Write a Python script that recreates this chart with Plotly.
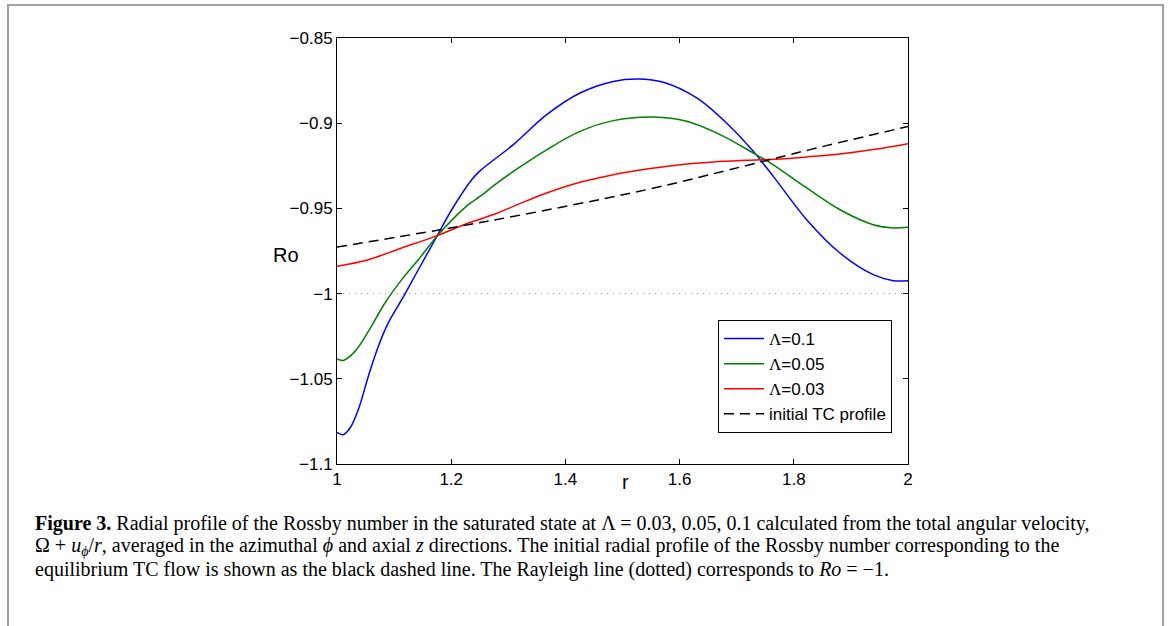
import plotly.graph_objects as go

# ---- data ----
r_l01 = [1.0, 1.011, 1.0228, 1.0373, 1.0548, 1.0723, 1.0898, 1.1133, 1.1424, 1.1716, 1.2009, 1.2359,
         1.2504, 1.3088, 1.3672, 1.4256, 1.4839, 1.5277, 1.5715, 1.63, 1.6883, 1.729, 1.7641, 1.8226,
         1.8809, 1.9392, 1.9743, 2.0]
ro_l01 = [-1.0815, -1.0828, -1.0789, -1.0681, -1.0486, -1.031, -1.0172, -1.0036, -0.986, -0.9684, -0.9508,
          -0.9332, -0.928, -0.9126, -0.895, -0.8823, -0.8755, -0.8741, -0.876, -0.8852, -0.9019, -0.9165,
          -0.9312, -0.9566, -0.9762, -0.9889, -0.9924, -0.9924]

r_l005 = [1.0, 1.011, 1.0315, 1.0548, 1.084, 1.1133, 1.1424, 1.1774, 1.23, 1.2504, 1.2767, 1.3088, 1.3672,
          1.4256, 1.4839, 1.554, 1.6124, 1.6708, 1.729, 1.7641, 1.8226, 1.8809, 1.9392, 1.9743, 2.0]
ro_l005 = [-1.0384, -1.0392, -1.0339, -1.0222, -1.0055, -0.9918, -0.9801, -0.9654, -0.9478, -0.943,
           -0.9361, -0.9283, -0.9156, -0.9048, -0.8985, -0.8964, -0.8989, -0.9067, -0.9175, -0.9244,
           -0.938, -0.9508, -0.9596, -0.9615, -0.9611]

r_l003 = [1.0, 1.0548, 1.1133, 1.1716, 1.23, 1.2767, 1.3088, 1.3672, 1.4256, 1.4839, 1.5423, 1.6007,
          1.659, 1.7175, 1.7758, 1.8226, 1.8809, 1.9392, 2.0]
ro_l003 = [-0.984, -0.9801, -0.9732, -0.9664, -0.9586, -0.9533, -0.9488, -0.941, -0.9347, -0.9302,
           -0.9269, -0.9244, -0.9228, -0.9218, -0.921, -0.9198, -0.9181, -0.9155, -0.912]

r_tc = [1.0, 1.256, 1.5423, 1.7116, 1.8284, 2.0]
ro_tc = [-0.9727, -0.958, -0.939, -0.9253, -0.9155, -0.9019]

r_rayleigh = [1.0, 2.0]
ro_rayleigh = [-1.0, -1.0]

y_ticks = [-0.85, -0.9, -0.95, -1.0, -1.05, -1.1]
y_tick_text = ["\u22120.85", "\u22120.9", "\u22120.95", "\u22121", "\u22121.05", "\u22121.1"]
x_ticks = [1, 1.2, 1.4, 1.6, 1.8, 2]
x_tick_text = ["1", "1.2", "1.4", "1.6", "1.8", "2"]

LAM = "<span style='font-family:Liberation Serif'>Λ</span>"

fig = go.Figure()
fig.add_trace(go.Scatter(x=r_rayleigh, y=ro_rayleigh, mode="lines", showlegend=False,
                         line=dict(color="#8c8c8c", width=1, dash="1px,5px")))
fig.add_trace(go.Scatter(x=r_l01, y=ro_l01, mode="lines", name=LAM + "=0.1",
                         line=dict(color="#0000ff", width=1.5, shape="spline", smoothing=1.0)))
fig.add_trace(go.Scatter(x=r_l005, y=ro_l005, mode="lines", name=LAM + "=0.05",
                         line=dict(color="#008000", width=1.5, shape="spline", smoothing=1.0)))
fig.add_trace(go.Scatter(x=r_l003, y=ro_l003, mode="lines", name=LAM + "=0.03",
                         line=dict(color="#ff0000", width=1.5, shape="spline", smoothing=1.0)))
fig.add_trace(go.Scatter(x=r_tc, y=ro_tc, mode="lines", name="initial TC profile",
                         line=dict(color="#000000", width=1.5, dash="10px,6px", shape="spline")))

axis_common = dict(showline=True, linecolor="black", linewidth=1, mirror="ticks",
                   ticks="inside", ticklen=5, tickcolor="black", tickwidth=1,
                   showgrid=False, zeroline=False,
                   tickfont=dict(family="Liberation Sans", size=17, color="black"))

fig.update_xaxes(range=[1, 2], tickvals=x_ticks, ticktext=x_tick_text, **axis_common)
fig.update_yaxes(range=[-1.1, -0.85], tickvals=y_ticks, ticktext=y_tick_text, **axis_common)

W, H = 1170, 626
L, R, T, B = 337, 908, 38, 464
pw, ph = R - L, B - T


def px_x(p):
    return (p - L) / pw


def px_y(p):
    return (B - p) / ph


annotations = [
    dict(text="r", x=px_x(625), y=px_y(495), xref="paper", yref="paper", showarrow=False,
         font=dict(family="Liberation Sans", size=20, color="black")),
    dict(text="Ro", x=px_x(271), y=px_y(255), xref="paper", yref="paper", showarrow=False,
         font=dict(family="Liberation Sans", size=20, color="black")),
]

caption_lines = [
    "<b>Figure 3.</b> Radial profile of the Rossby number in the saturated state at Λ = 0.03, 0.05, 0.1 "
    "calculated from the total angular velocity,",
    "Ω + <i>u</i><sub><i>ϕ</i></sub>/<i>r</i>, averaged in the azimuthal <i>ϕ</i> and axial <i>z</i> "
    "directions. The initial radial profile of the Rossby number corresponding to the",
    "equilibrium TC flow is shown as the black dashed line. The Rayleigh line (dotted) corresponds to "
    "<i>Ro</i> = −1.",
]
for line, yy in zip(caption_lines, [523, 546, 569]):
    annotations.append(dict(text=line, x=px_x(33), y=px_y(yy), xref="paper", yref="paper",
                            xanchor="left", yanchor="middle", showarrow=False,
                            font=dict(family="Liberation Serif", size=20, color="black")))

fig.update_layout(
    width=W, height=H,
    margin=dict(l=L, r=W - R, t=T, b=H - B),
    paper_bgcolor="white", plot_bgcolor="white",
    showlegend=True,
    legend=dict(x=px_x(892), y=px_y(433), xanchor="right", yanchor="bottom",
                bordercolor="black", borderwidth=1, bgcolor="white",
                font=dict(family="Liberation Sans", size=17, color="black"),
                tracegroupgap=0, itemwidth=40),
    annotations=annotations,
    shapes=[dict(type="rect", xref="paper", yref="paper",
                 x0=px_x(8), x1=px_x(1163), y0=px_y(640), y1=px_y(5),
                 line=dict(color="#a0a0a0", width=2), fillcolor="rgba(0,0,0,0)", layer="below")],
)

fig.write_html("out.html")
